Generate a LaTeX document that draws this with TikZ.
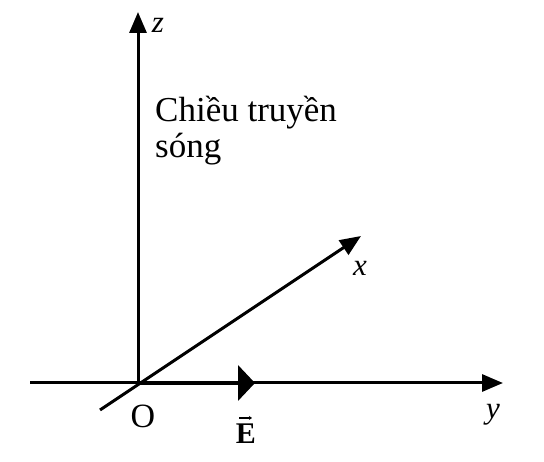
\documentclass[tikz,border=0pt]{standalone}
\usepackage{fontspec}
\setmainfont{Liberation Serif}
\usetikzlibrary{arrows.meta}
\begin{document}
\begin{tikzpicture}[x=1pt, y=-1pt,
  axis/.style={line width=3pt, -{Triangle[length=21pt, width=17pt]}},
  field/.style={line width=4pt, -{Triangle[length=17pt, width=35pt]}},
  lbl/.style={inner sep=0pt, font=\fontsize{31}{36}\selectfont\itshape}]
\useasboundingbox (0,0) rectangle (544,462);
\coordinate (O) at (138,383);
\coordinate (zend) at (138,383);
\coordinate (ztip) at (138,12);
\coordinate (yend) at (30,383);
\coordinate (ytip) at (503,383);
\coordinate (xend) at (100,410);
\coordinate (xtip) at (361,236);
\coordinate (Etip) at (255,383);
\draw[axis] (zend) -- (ztip);
\draw[axis] (yend) -- (ytip);
\draw[axis] (xend) -- (xtip);
\draw[field] (O) -- (Etip);
\node[lbl] (zlab) at (158,25) {z};
\node[lbl] (xlab) at (360,268) {x};
\node[lbl] (ylab) at (493,415) {y};
\node[inner sep=0pt, font=\fontsize{34}{36}\selectfont] (Olab) at (143,416) {O};
\node[inner sep=0pt, font=\fontsize{30}{36}\selectfont\bfseries] (Elab) at (246,434) {E};
% small arrow over E
\draw[line width=1.5pt, -{Stealth[length=3pt, width=4pt]}] ([xshift=-7pt, yshift=6pt]Elab.north) -- ([xshift=6pt, yshift=6pt]Elab.north);
\node[inner sep=0pt, anchor=base west, align=left,
  font=\fontsize{35}{36}\selectfont] (dir) at (155,158) {Chiều truyền\\sóng};
\end{tikzpicture}
\end{document}
